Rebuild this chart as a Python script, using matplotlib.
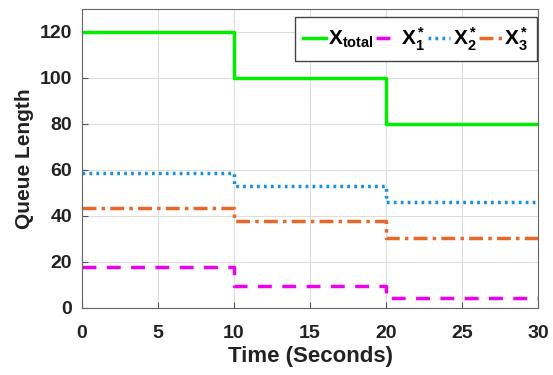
import numpy as np
import matplotlib.pyplot as plt

plt.rcParams['font.family'] = ['Liberation Sans', 'DejaVu Sans']
plt.rcParams['mathtext.fontset'] = 'custom'
plt.rcParams['mathtext.rm'] = 'Liberation Sans'
plt.rcParams['mathtext.bf'] = 'Liberation Sans:bold'

# Step change times and queue lengths per interval
t = [0, 10, 20, 30]
x_total = [120, 100, 80]
x1 = [17.8, 9.6, 4.3]
x2 = [58.5, 53.2, 46.0]
x3 = [43.5, 37.8, 30.6]

def steps(v):
    return v + [v[-1]]

fig = plt.figure(figsize=(5.53, 3.75), dpi=100)
ax = fig.add_axes([82 / 553, 67 / 375, 456 / 553, 299 / 375])

ax.step(t, steps(x_total), where='post', color='#00ee00', lw=2.5,
        label=r'$\mathbf{X_{total}}$')
ax.step(t, steps(x1), where='post', color='#ee00ee', lw=2.5, ls=(0, (4, 3)),
        label=r'$\mathbf{X_1^*}$')
ax.step(t, steps(x2), where='post', color='#1a90e0', lw=2.5, ls=(0, (0.8, 1.2)),
        label=r'$\mathbf{X_2^*}$')
ax.step(t, steps(x3), where='post', color='#e8682a', lw=2.5, ls=(0, (4, 1.5, 1, 1.5)),
        label=r'$\mathbf{X_3^*}$')

ax.set_xlim(0, 30)
ax.set_ylim(0, 130)
ax.set_xticks([0, 5, 10, 15, 20, 25, 30])
ax.set_yticks([0, 20, 40, 60, 80, 100, 120])
ax.tick_params(direction='in', labelsize=14, width=0.8, length=4, color='#555555')
ax.tick_params(axis='x', pad=12)
ax.tick_params(axis='y', pad=7)
for lab in ax.get_xticklabels() + ax.get_yticklabels():
    lab.set_fontweight('bold')
    lab.set_color('#222222')
ax.grid(True, color='#dddddd', lw=0.8)
for s in ax.spines.values():
    s.set_color('#666666')

ax.set_xlabel('Time (Seconds)', fontsize=16, fontweight='bold', color='#222222', labelpad=3)
ax.set_ylabel('Queue Length', fontsize=15, fontweight='bold', color='#222222', labelpad=4)

leg = ax.legend(loc='upper right', ncol=4, fontsize=15, handlelength=1.1,
                handletextpad=0.1, columnspacing=0.1, borderpad=0.4,
                borderaxespad=0.0, fancybox=False, edgecolor='#444444',
                framealpha=1, bbox_to_anchor=(0.998, 0.973))
leg.get_frame().set_linewidth(1.0)

fig.savefig('out.png', dpi=100)
